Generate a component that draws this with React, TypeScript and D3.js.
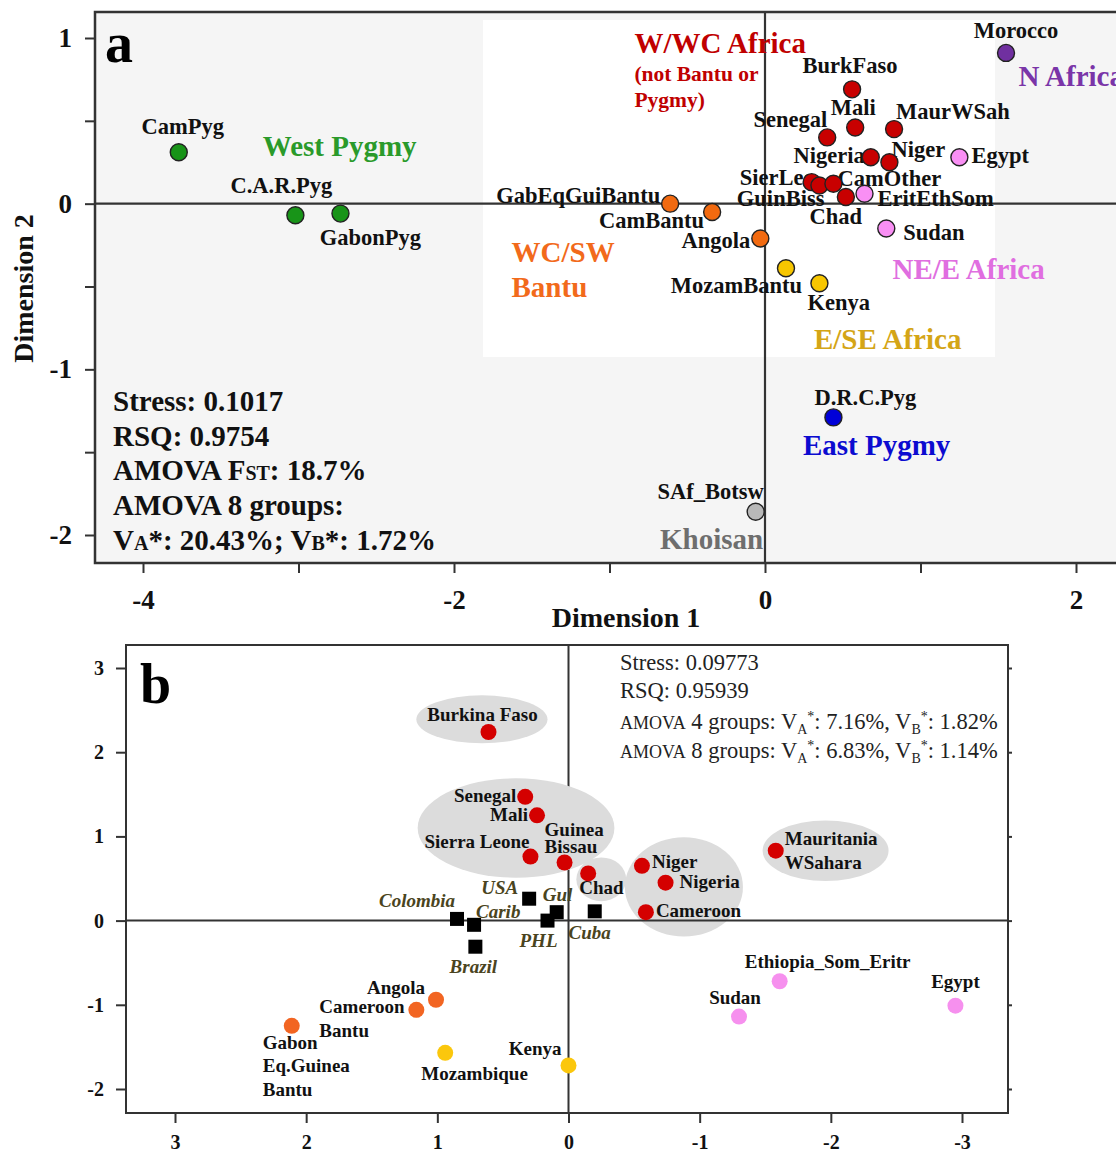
import React, { useEffect, useRef } from "react";
import { scaleLinear, axisLeft, axisBottom, axisRight, select } from "d3";

const FONT = "'Liberation Serif', 'Times New Roman', serif";

// ---- panel a: 24 populations, dims 1/2 ----
const popsA = [
  "CamPyg", "C.A.R.Pyg", "GabonPyg", "GabEqGuiBantu", "CamBantu", "Angola",
  "MozamBantu", "Kenya", "BurkFaso", "Mali", "Senegal", "MaurWSah", "Nigeria",
  "Niger", "SierLeo", "GuinBiss", "CamOther", "Chad", "EritEthSom", "Egypt",
  "Sudan", "Morocco", "D.R.C.Pyg", "SAf_Botsw",
];
const dim1A = [
  -3.77, -3.02, -2.73, -0.61, -0.34, -0.03, 0.135, 0.35, 0.56, 0.58, 0.4, 0.83,
  0.68, 0.8, 0.3, 0.35, 0.44, 0.52, 0.64, 1.25, 0.78, 1.55, 0.44, -0.06,
];
const dim2A = [
  0.31, -0.07, -0.06, 0.0, -0.05, -0.21, -0.39, -0.48, 0.69, 0.46, 0.4, 0.45,
  0.28, 0.25, 0.13, 0.11, 0.12, 0.04, 0.06, 0.28, -0.15, 0.91, -1.29, -1.86,
];
const groupA = [
  "wpyg", "wpyg", "wpyg", "bantu", "bantu", "bantu", "ese", "ese", "wwc", "wwc",
  "wwc", "wwc", "wwc", "wwc", "wwc", "wwc", "wwc", "wwc", "nee", "nee", "nee",
  "naf", "epyg", "khoi",
];
const ticksAX = [-4, -3, -2, -1, 0, 1, 2];
const ticksAY = [1, 0.5, 0, -0.5, -1, -1.5, -2];

// region names (text, group, data x, data y)
const regionText = [
  "West Pygmy", "W/WC Africa", "N Africa", "WC/SW", "Bantu", "NE/E Africa",
  "E/SE Africa", "East Pygmy", "Khoisan",
];
const regionGroup = ["wpyg", "wwc", "naf", "bantu", "bantu", "nee", "ese", "epyg", "khoi"];
const regionX = [-3.23, -0.84, 1.63, -1.63, -1.63, 0.82, 0.315, 0.244, -0.675];
const regionY = [0.29, 0.912, 0.713, -0.35, -0.562, -0.453, -0.876, -1.517, -2.085];

// ---- panel b: African populations + diaspora ----
const popsB = [
  "Burkina Faso", "Senegal", "Mali", "Sierra Leone", "Guinea\nBissau", "Chad",
  "Niger", "Nigeria", "Cameroon", "Mauritania\nWSahara", "Ethiopia_Som_Eritr",
  "Sudan", "Egypt", "Angola", "Cameroon\nBantu", "Gabon\nEq.Guinea\nBantu",
  "Mozambique", "Kenya",
];
const dim1B = [0.61, 0.33, 0.24, 0.29, 0.03, -0.15, -0.56, -0.74, -0.59, -1.58, -1.61, -1.3, -2.95, 1.01, 1.16, 2.11, 0.94, 0.0];
const dim2B = [2.24, 1.47, 1.25, 0.76, 0.69, 0.56, 0.65, 0.45, 0.1, 0.83, -0.72, -1.14, -1.01, -0.94, -1.06, -1.25, -1.57, -1.72];
const groupB = [
  "wwc", "wwc", "wwc", "wwc", "wwc", "wwc", "wwc", "wwc", "wwc", "wwc",
  "nee", "nee", "nee", "bantu", "bantu", "bantu", "ese", "ese",
];
const diaspora = ["Colombia", "Carib", "Brazil", "USA", "Gul", "PHL", "Cuba"];
const dia1 = [0.85, 0.72, 0.71, 0.3, 0.09, 0.16, -0.2];
const dia2 = [0.02, -0.05, -0.31, 0.26, 0.1, 0.0, 0.11];
const ticksBX = [3, 2, 1, 0, -1, -2, -3];
const ticksBY = [3, 2, 1, 0, -1, -2];

// gray cluster ellipses (data units: cx, cy, rx, ry)
const clusterCx = [0.66, 0.4, -0.25, -0.88, -1.96];
const clusterCy = [2.39, 1.1, 0.49, 0.4, 0.83];
const clusterRx = [0.5, 0.75, 0.19, 0.45, 0.48];
const clusterRy = [0.285, 0.59, 0.26, 0.59, 0.36];

// styles
const dotA = {
  wpyg: "#189418", bantu: "#f26a10", ese: "#f7c600", wwc: "#c80000",
  nee: "#f98ff4", naf: "#7030a0", epyg: "#0000d8", khoi: "#b8b8b8",
};
const textA = {
  wpyg: "#2a9a2a", bantu: "#f26a1b", ese: "#d4a516", wwc: "#c00000",
  nee: "#e06ee0", naf: "#7a35a8", epyg: "#0b0bd0", khoi: "#6e6e6e",
};
const dotB = { wwc: "#d40000", bantu: "#f26522", ese: "#fbc70c", nee: "#f690ee" };

// label offsets in px: [dx, dy, anchor]
const labA = {
  CamPyg: [4, -18, "middle"], "C.A.R.Pyg": [-14, -22, "middle"], GabonPyg: [30, 31, "middle"],
  GabEqGuiBantu: [-10, -1, "end"], CamBantu: [-8, 16, "end"], Angola: [-10, 10, "end"],
  MozamBantu: [16, 25, "end"], Kenya: [-12, 27, "start"], BurkFaso: [-2, -16, "middle"],
  Mali: [-2, -12, "middle"], Senegal: [0, -10, "end"], MaurWSah: [2, -10, "start"],
  Nigeria: [-6, 6, "end"], Niger: [2, -5, "start"], SierLeo: [3, 3, "end"],
  GuinBiss: [5, 21, "end"], CamOther: [4, 2, "start"], Chad: [-10, 27, "middle"],
  EritEthSom: [13, 12, "start"], Egypt: [12, 6, "start"], Sudan: [17, 11, "start"],
  Morocco: [10, -15, "middle"], "D.R.C.Pyg": [32, -12, "middle"], SAf_Botsw: [8, -13, "end"],
};
// [dx, dy, anchor, line height]
const labB = {
  "Burkina Faso": [-6, -11, "middle", 0], Senegal: [-9, 5, "end", 0], Mali: [-9, 6, "end", 0],
  "Sierra Leone": [-1, -9, "end", 0], "Guinea\nBissau": [-20, -27, "start", 17],
  Chad: [-9, 21, "start", 0], Niger: [10, 2, "start", 0], Nigeria: [14, 5, "start", 0],
  Cameroon: [10, 5, "start", 0], "Mauritania\nWSahara": [9, -6, "start", 24],
  Ethiopia_Som_Eritr: [48, -13, "middle", 0], Sudan: [-4, -13, "middle", 0],
  Egypt: [0, -18, "middle", 0], Angola: [-11, -6, "end", 0],
  "Cameroon\nBantu": [-97, 3, "start", 24], "Gabon\nEq.Guinea\nBantu": [-29, 23, "start", 23.5],
  Mozambique: [-24, 27, "start", 0], Kenya: [-7, -10, "end", 0],
  Colombia: [-2, -12, "end", 0], Carib: [2, -7, "start", 0], Brazil: [-2, 26, "middle", 0],
  USA: [-11, -5, "end", 0], Gul: [-14, -11, "start", 0], PHL: [-9, 26, "middle", 0],
  Cuba: [-5, 28, "middle", 0],
};

const Axis = ({ axis, transform, size }) => {
  const node = useRef(null);
  useEffect(() => {
    if (node.current) {
      const g = select(node.current).call(axis);
      g.attr("font-family", FONT).attr("font-size", size).attr("font-weight", "bold");
      g.select(".domain").remove();
      g.selectAll(".tick line").attr("stroke", "#333").attr("stroke-width", 2);
      g.selectAll(".tick text").attr("fill", "#111");
    }
  }, [axis]);
  return <g ref={node} transform={transform} />;
};

const Label = ({ x, y, text, anchor, lh, size, italic, fill }) => {
  const lines = text.split("\n");
  return (
    <text x={x} y={y} textAnchor={anchor} fontFamily={FONT} fontWeight="bold"
      fontStyle={italic ? "italic" : "normal"} fontSize={size} fill={fill}>
      {lines.map((l, i) => (
        <tspan key={i} x={x} dy={i === 0 ? 0 : lh}>{l}</tspan>
      ))}
    </text>
  );
};

export default function App() {
  // panel a frame
  const aL = 95, aT = 12, aB = 563, aR = 1140;
  const xA = scaleLinear().domain([-4, 2]).range([143, 1076]);
  const yA = scaleLinear().domain([1, -2]).range([38, 535]);

  // panel b frame
  const bL = 126, bT = 645, bB = 1113, bR = 1008;
  const xB = scaleLinear().domain([3, -3]).range([175, 962]);
  const yB = scaleLinear().domain([3, -2]).range([668, 1089]);

  const subStyle = { fontSize: 14 };

  return (
    <svg width={1116} height={1151} style={{ position: "absolute", left: 0, top: 0 }}>
      <rect width={1116} height={1151} fill="#fff" />

      {/* ===== panel a ===== */}
      <rect x={aL} y={aT} width={aR - aL} height={aB - aT} fill="#f5f5f5" />
      <rect x={483} y={20} width={512} height={337} fill="#fff" />
      <line x1={aL} x2={aR} y1={yA(0)} y2={yA(0)} stroke="#333" strokeWidth={2.2} />
      <line x1={xA(0)} x2={xA(0)} y1={aT} y2={aB} stroke="#333" strokeWidth={2.2} />
      <rect x={aL} y={aT} width={aR - aL} height={aB - aT} fill="none" stroke="#333" strokeWidth={2.5} />
      <Axis
        axis={axisLeft(yA).tickValues(ticksAY).tickSize(10).tickPadding(13)
          .tickFormat((d) => (Number.isInteger(d) ? String(d) : ""))}
        transform={`translate(${aL},0)`} size={27}
      />
      <Axis
        axis={axisBottom(xA).tickValues(ticksAX).tickSize(10).tickPadding(17)
          .tickFormat((d) => (d % 2 === 0 ? String(d) : ""))}
        transform={`translate(0,${aB})`} size={27}
      />
      <text x={105} y={62} fontFamily={FONT} fontWeight="bold" fontSize={56} fill="#000">a</text>
      <text transform={`translate(33,${(aT + aB) / 2 + 1}) rotate(-90)`} textAnchor="middle"
        fontFamily={FONT} fontWeight="bold" fontSize={28} fill="#111">Dimension 2</text>
      <text x={626} y={627} textAnchor="middle" fontFamily={FONT} fontWeight="bold" fontSize={28} fill="#111">Dimension 1</text>

      {regionText.map((t, i) => (
        <text key={t} x={xA(regionX[i])} y={yA(regionY[i])} fontFamily={FONT} fontWeight="bold"
          fontSize={29} fill={textA[regionGroup[i]]}>{t}</text>
      ))}
      <text x={xA(-0.84)} y={yA(0.743)} fontFamily={FONT} fontWeight="bold" fontSize={21.5} fill={textA.wwc}>(not Bantu or</text>
      <text x={xA(-0.84)} y={yA(0.586)} fontFamily={FONT} fontWeight="bold" fontSize={21.5} fill={textA.wwc}>Pygmy)</text>

      {popsA.map((p, i) => {
        const [dx, dy, anchor] = labA[p];
        return (
          <Label key={p} x={xA(dim1A[i]) + dx} y={yA(dim2A[i]) + dy} text={p} anchor={anchor}
            size={22.5} fill="#111" />
        );
      })}
      {popsA.map((p, i) => (
        <circle key={p} cx={xA(dim1A[i])} cy={yA(dim2A[i])} r={8.5}
          fill={dotA[groupA[i]]} stroke="#222" strokeWidth={1.4} />
      ))}

      <g fontFamily={FONT} fontWeight="bold" fontSize={29} fill="#111">
        <text x={113} y={411}>Stress: 0.1017</text>
        <text x={113} y={446}>RSQ: 0.9754</text>
        <text x={113} y={480}>AMOVA F<tspan fontSize={20}>ST</tspan>: 18.7%</text>
        <text x={113} y={515}>AMOVA 8 groups:</text>
        <text x={113} y={550}>
          V<tspan fontSize={20}>A</tspan>*: 20.43%; V<tspan fontSize={20}>B</tspan>*: 1.72%
        </text>
      </g>

      {/* ===== panel b ===== */}
      <line x1={xB(0)} x2={xB(0)} y1={bT} y2={bB} stroke="#333" strokeWidth={2} />
      {clusterCx.map((c, i) => (
        <ellipse key={i} cx={xB(c)} cy={yB(clusterCy[i])}
          rx={Math.abs(xB(clusterRx[i]) - xB(0))} ry={Math.abs(yB(clusterRy[i]) - yB(0))}
          fill="#dcdcdc" />
      ))}
      <line x1={bL} x2={bR} y1={yB(0)} y2={yB(0)} stroke="#333" strokeWidth={2} />
      <rect x={bL} y={bT} width={bR - bL} height={bB - bT} fill="none" stroke="#333" strokeWidth={2} />
      <Axis
        axis={axisLeft(yB).tickValues(ticksBY).tickSize(10).tickPadding(12).tickFormat((d) => String(d))}
        transform={`translate(${bL},0)`} size={20}
      />
      <Axis
        axis={axisRight(yB).tickValues(ticksBY).tickSize(4).tickFormat(() => "")}
        transform={`translate(${bR},0)`} size={20}
      />
      <Axis
        axis={axisBottom(xB).tickValues(ticksBX).tickSize(10).tickPadding(12).tickFormat((d) => String(d))}
        transform={`translate(0,${bB})`} size={20}
      />
      <text x={140} y={703} fontFamily={FONT} fontWeight="bold" fontSize={56} fill="#000">b</text>

      <g fontFamily={FONT} fontSize={22.5} fill="#222">
        <text x={620} y={670}>Stress: 0.09773</text>
        <text x={620} y={698}>RSQ: 0.95939</text>
        <text x={620} y={729}>
          <tspan fontSize={18}>AMOVA</tspan> 4 groups: V<tspan dy={5} style={subStyle}>A</tspan>
          <tspan dy={-13} style={subStyle}>*</tspan><tspan dy={8}>: 7.16%, V</tspan>
          <tspan dy={5} style={subStyle}>B</tspan><tspan dy={-13} style={subStyle}>*</tspan>
          <tspan dy={8}>: 1.82%</tspan>
        </text>
        <text x={620} y={758}>
          <tspan fontSize={18}>AMOVA</tspan> 8 groups: V<tspan dy={5} style={subStyle}>A</tspan>
          <tspan dy={-13} style={subStyle}>*</tspan><tspan dy={8}>: 6.83%, V</tspan>
          <tspan dy={5} style={subStyle}>B</tspan><tspan dy={-13} style={subStyle}>*</tspan>
          <tspan dy={8}>: 1.14%</tspan>
        </text>
      </g>

      {popsB.map((p, i) => {
        const [dx, dy, anchor, lh] = labB[p];
        return (
          <Label key={p} x={xB(dim1B[i]) + dx} y={yB(dim2B[i]) + dy} text={p} anchor={anchor}
            lh={lh} size={19} fill="#111" />
        );
      })}
      {diaspora.map((p, i) => {
        const [dx, dy, anchor] = labB[p];
        return (
          <Label key={p} x={xB(dia1[i]) + dx} y={yB(dia2[i]) + dy} text={p} anchor={anchor}
            size={19} italic fill="#4a4420" />
        );
      })}
      {popsB.map((p, i) => (
        <circle key={p} cx={xB(dim1B[i])} cy={yB(dim2B[i])} r={8} fill={dotB[groupB[i]]} />
      ))}
      {diaspora.map((p, i) => (
        <rect key={p} x={xB(dia1[i]) - 7} y={yB(dia2[i]) - 7} width={14} height={14} fill="#000" />
      ))}
    </svg>
  );
}
